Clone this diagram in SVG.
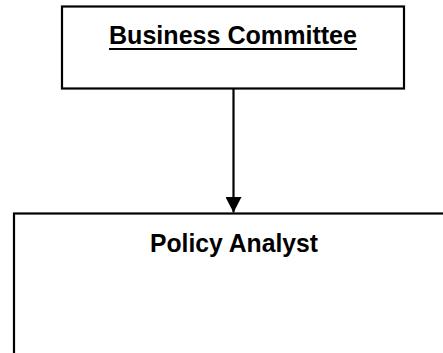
<svg xmlns="http://www.w3.org/2000/svg" width="443" height="353" viewBox="0 0 443 353">
<style>
.box{fill:#fff;stroke:#000;stroke-width:2.2}
.lbl{font-family:"Liberation Sans",Arial,sans-serif;font-weight:bold;font-size:25px;fill:#000;text-anchor:middle}
.conn{stroke:#000;stroke-width:2.2;fill:none}
</style>
<defs>
<marker id="arr" markerUnits="userSpaceOnUse" markerWidth="16" markerHeight="16" refX="15.5" refY="8" orient="auto" viewBox="0 0 16 16">
<polygon points="0,0 15.5,8 0,16" fill="#000"/>
</marker>
</defs>
<rect width="443" height="353" fill="#fff"/>
<g id="connectors">
<line class="conn" x1="233.5" y1="88" x2="233.5" y2="212.5" marker-end="url(#arr)"/>
</g>
<g id="business-committee">
<rect class="box" x="62" y="6.5" width="342" height="82"/>
<text class="lbl" x="233" y="44" textLength="248" lengthAdjust="spacingAndGlyphs">Business Committee</text>
<line x1="109" y1="49" x2="357" y2="49" stroke="#000" stroke-width="2"/>
</g>
<g id="policy-analyst">
<rect class="box" x="14" y="213.5" width="440" height="150"/>
<text class="lbl" x="234" y="251.5" textLength="168" lengthAdjust="spacingAndGlyphs">Policy Analyst</text>
</g>
</svg>
